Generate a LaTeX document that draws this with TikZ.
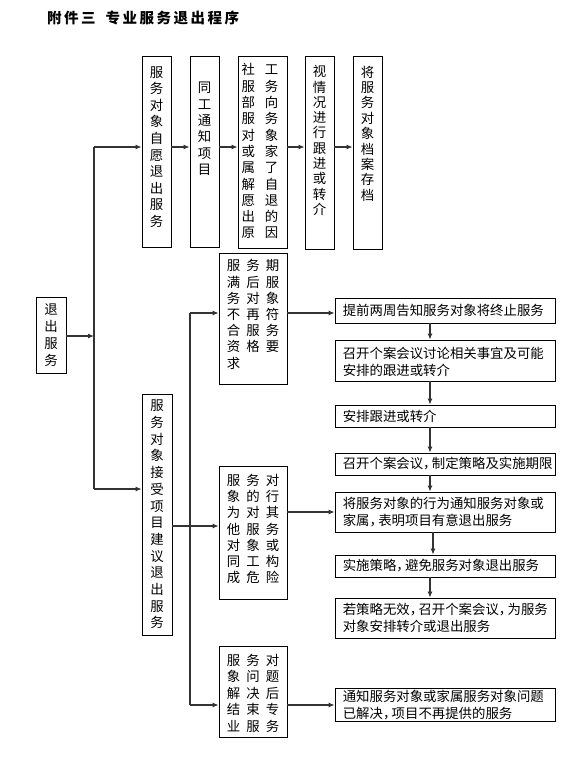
\documentclass[tikz,border=0pt]{standalone}
\usepackage{fontspec}
\setmainfont{Noto Sans CJK SC}
\usetikzlibrary{arrows.meta}
\newcommand\tk{\kern2.5pt}
\newcommand\cm{\makebox[0.65em][l]{，}}
\newcommand\tcr[3]{\makebox[19.5pt]{#1}\makebox[19.5pt]{#2}\makebox[19.5pt]{#3}}
\newcommand\dcr[2]{\makebox[23.4pt]{#1}\makebox[23.4pt]{#2}}
\tikzset{
  box/.style={draw=black, line width=0.8pt, inner sep=0pt, fill=white},
  conn/.style={line width=1.1pt, draw=black!80},
  arr/.style={conn, -{Latex[length=6pt,width=5pt]}},
  vt/.style={inner sep=0pt, align=center},
  rt/.style={inner sep=0pt, align=left, anchor=west, font={\fontsize{13.4}{17}\selectfont}},
}
\begin{document}
\begin{tikzpicture}[x=1pt,y=-1pt]
\useasboundingbox (0,0) rectangle (572,763);

% title
\node[inner sep=0pt, anchor=west, font={\fontsize{14.5}{16}\selectfont\bfseries}] (title) at (47,18)
  {附\tk{}件\tk{}三\kern10pt 专\tk{}业\tk{}服\tk{}务\tk{}退\tk{}出\tk{}程\tk{}序};

% left box
\node[box, minimum width=30pt, minimum height=76pt] (L) at (51,335) {};
\node[vt, font={\fontsize{13.4}{17}\selectfont}] (tL) at (L) {退\\出\\服\\务};

% top row boxes
\node[box, minimum width=29pt, minimum height=191pt] (V1) at (156.5,151.5) {};
\node[vt, font={\fontsize{13.4}{16.6}\selectfont}, yshift=4.5pt] (t1) at (V1) {服\\务\\对\\象\\自\\愿\\退\\出\\服\\务};
\node[box, minimum width=29pt, minimum height=191pt] (V2) at (204.5,151.5) {};
\node[vt, font={\fontsize{13.4}{16.4}\selectfont}, yshift=22.5pt] (t2) at (V2) {同\\工\\通\\知\\项\\目};
\node[box, minimum width=49pt, minimum height=192pt] (V3) at (262.5,152) {};
\node[vt, font={\fontsize{13.4}{16.3}\selectfont}, xshift=-2.5pt, yshift=0.7pt] (t3) at (V3)
  {\dcr{社}{工}\\\dcr{服}{务}\\\dcr{部}{向}\\\dcr{服}{务}\\\dcr{对}{象}\\\dcr{或}{家}\\\dcr{属}{了}\\\dcr{解}{自}\\\dcr{愿}{退}\\\dcr{出}{的}\\\dcr{原}{因}};
\node[box, minimum width=29pt, minimum height=193pt] (V4) at (319.5,152.5) {};
\node[vt, font={\fontsize{13.4}{15.3}\selectfont}, yshift=12pt] (t4) at (V4) {视\\情\\况\\进\\行\\跟\\进\\或\\转\\介};
\node[box, minimum width=29pt, minimum height=193pt] (V5) at (367.5,152.5) {};
\node[vt, font={\fontsize{13.4}{15.4}\selectfont}, yshift=19pt] (t5) at (V5) {将\\服\\务\\对\\象\\档\\案\\存\\档};

% lower left box
\node[box, minimum width=30pt, minimum height=241pt] (VB) at (157,514.5) {};
\node[vt, font={\fontsize{13.4}{16.7}\selectfont}] (tB) at (VB) {服\\务\\对\\象\\接\\受\\项\\目\\建\\议\\退\\出\\服\\务};

% three-column boxes
\node[box, minimum width=68pt, minimum height=131pt] (T1) at (253,318.5) {};
\node[vt, align=left, font={\fontsize{13.4}{16.2}\selectfont}, yshift=4pt] (tT1) at (T1)
  {\tcr{服}{务}{期}\\\tcr{满}{后}{服}\\\tcr{务}{对}{象}\\\tcr{不}{再}{符}\\\tcr{合}{服}{务}\\\tcr{资}{格}{要}\\\makebox[19.5pt]{求}\makebox[39pt]{}};
\node[box, minimum width=68pt, minimum height=133pt] (T2) at (253,532.5) {};
\node[vt, align=left, font={\fontsize{13.4}{16.3}\selectfont}, yshift=3.5pt] (tT2) at (T2)
  {\tcr{服}{务}{对}\\\tcr{象}{的}{行}\\\tcr{为}{对}{其}\\\tcr{他}{服}{务}\\\tcr{对}{象}{或}\\\tcr{同}{工}{构}\\\tcr{成}{危}{险}};
\node[box, minimum width=68pt, minimum height=91pt] (T3) at (253,691.5) {};
\node[vt, align=left, font={\fontsize{13.4}{16.5}\selectfont}, yshift=-1.5pt] (tT3) at (T3)
  {\tcr{服}{务}{对}\\\tcr{象}{问}{题}\\\tcr{解}{决}{后}\\\tcr{结}{束}{专}\\\tcr{业}{服}{务}};

% right column boxes
\node[box, minimum width=220pt, minimum height=25pt] (A) at (445,310.5) {};
\node[rt] (tA) at ([xshift=8pt]A.west) {提前两周告知服务对象将终止服务};
\node[box, minimum width=220pt, minimum height=41pt] (B) at (445,360.5) {};
\node[rt] (tB2) at ([xshift=8pt,yshift=-1pt]B.west) {召开个案会议讨论相关事宜及可能\\安排的跟进或转介};
\node[box, minimum width=220pt, minimum height=22pt] (C) at (445,416) {};
\node[rt] (tC) at ([xshift=8pt]C.west) {安排跟进或转介};
\node[box, minimum width=220pt, minimum height=22pt] (D) at (445,464) {};
\node[rt] (tD) at ([xshift=8pt]D.west) {召开个案会议\cm{}制定策略及实施期限};
\node[box, minimum width=220pt, minimum height=40pt] (E) at (445,512) {};
\node[rt] (tE) at ([xshift=8pt]E.west) {将服务对象的行为通知服务对象或\\家属\cm{}表明项目有意退出服务};
\node[box, minimum width=220pt, minimum height=22pt] (F) at (445,566) {};
\node[rt] (tF) at ([xshift=8pt]F.west) {实施策略\cm{}避免服务对象退出服务};
\node[box, minimum width=220pt, minimum height=40pt] (G) at (445,618) {};
\node[rt] (tG) at ([xshift=8pt]G.west) {若策略无效\cm{}召开个案会议\cm{}为服务\\对象安排转介或退出服务};
\node[box, minimum width=220pt, minimum height=33pt] (H) at (445,705) {};
\node[rt] (tH) at ([xshift=8pt]H.west) {通知服务对象或家属服务对象问题\\已解决\cm{}项目不再提供的服务};

% bus coordinates
\coordinate (b1t) at (94,147);
\coordinate (b1b) at (94,489);
\coordinate (b2t) at (190,313);
\coordinate (b2b) at (190,705);
\coordinate (yT2) at (0,526);
\coordinate (xr) at (430,0);
\coordinate (xr2) at (433,0);

% connectors left part
\draw[arr] (L.east |- 0,336) -- (b1t |- 0,336);
\draw[conn] (b1t) -- (b1b);
\draw[arr] (b1t) -- (V1.west |- b1t);
\draw[arr] (V1.east |- b1t) -- (V2.west |- b1t);
\draw[arr] (V2.east |- b1t) -- (V3.west |- b1t);
\draw[arr] (V3.east |- b1t) -- (V4.west |- b1t);
\draw[arr] (V4.east |- b1t) -- (V5.west |- b1t);
\draw[arr] (b1b) -- (VB.west |- b1b);

% middle bus
\draw[conn] (b2t) -- (b2b);
\draw[arr] (b2t) -- (T1.west |- b2t);
\draw[arr] (VB.east |- yT2) -- (T2.west |- yT2);
\draw[arr] (b2b) -- (T3.west |- b2b);

% to right column
\draw[arr] (T1.east |- b2t) -- (A.west |- b2t);
\draw[arr] (T2.east |- E.west) -- (E.west);
\draw[arr] (T3.east |- H.west) -- (H.west);

% right column vertical arrows
\draw[arr] (A.south -| xr) -- (B.north -| xr);
\draw[arr] (B.south -| xr) -- (C.north -| xr);
\draw[arr] (C.south -| xr) -- (D.north -| xr);
\draw[arr] (D.south -| xr) -- (E.north -| xr);
\draw[arr] (E.south -| xr2) -- (F.north -| xr2);
\draw[arr] (F.south -| xr) -- (G.north -| xr);
\end{tikzpicture}
\end{document}
